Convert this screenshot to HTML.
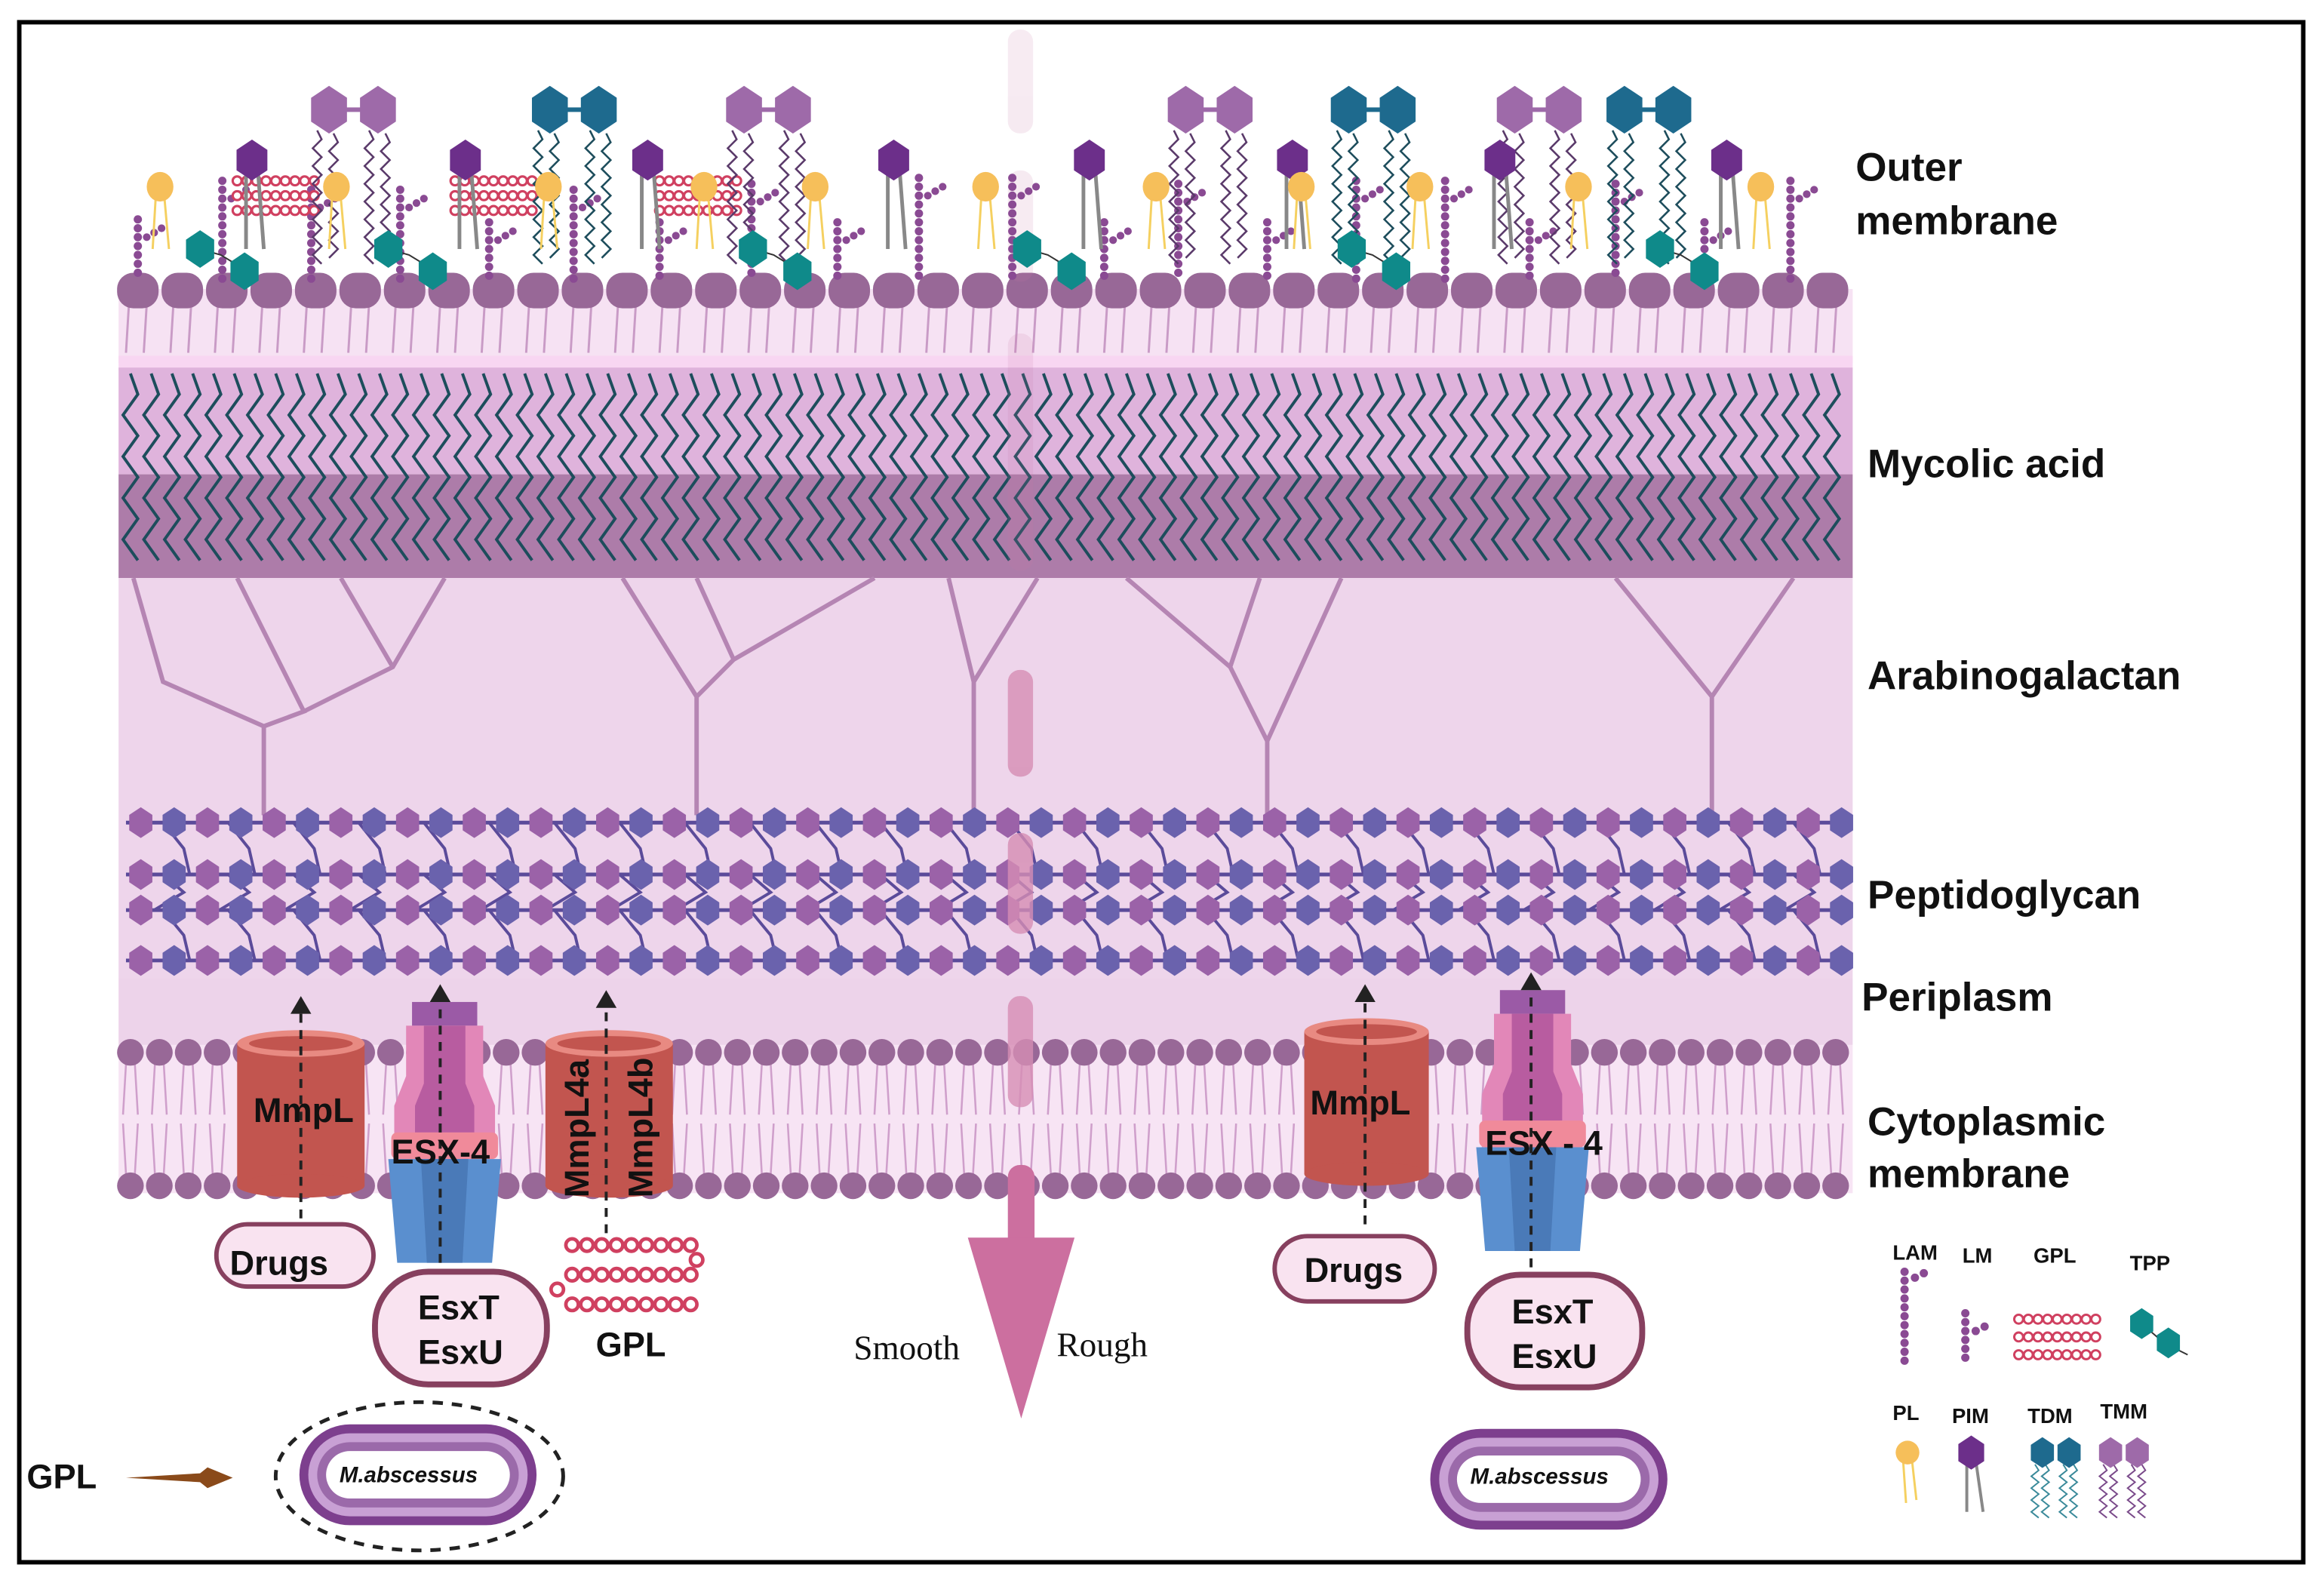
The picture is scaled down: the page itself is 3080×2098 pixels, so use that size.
<!DOCTYPE html>
<html><head><meta charset="utf-8"><style>
html,body{margin:0;padding:0;background:#fff;width:3080px;height:2098px;overflow:hidden}
svg{display:block}
.lbl{font-family:"Liberation Sans",sans-serif;font-weight:bold;fill:#111}
</style></head><body>
<svg id="s" width="3080" height="2098" viewBox="0 0 1568 1068" preserveAspectRatio="none" xmlns="http://www.w3.org/2000/svg">
<rect x="0" y="0" width="1568" height="1068" fill="#fff"/>
<g id="bg">
<rect x="80" y="195" width="1170" height="50" fill="#f6e2f3"/>
<rect x="80" y="240" width="1170" height="10" fill="#f8d6f2"/>
<rect x="80" y="248" width="1170" height="72" fill="#dfb3dc"/>
<rect x="80" y="320" width="1170" height="70" fill="#ad7ca9"/>
<rect x="80" y="390" width="1170" height="270" fill="#eed5eb"/>
<rect x="80" y="660" width="1170" height="45" fill="#edd3ea"/>
<rect x="80" y="705" width="1170" height="100" fill="#f7e4f4"/>
</g>
<g id="gen"></g>
<g id="fg"></g>
<rect x="13" y="15" width="1541" height="1039" fill="none" stroke="#000" stroke-width="3"/>
<g class="lbl" font-size="27">
<text x="1252" y="122">Outer</text>
<text x="1252" y="158">membrane</text>
<text x="1260" y="322">Mycolic acid</text>
<text x="1260" y="465">Arabinogalactan</text>
<text x="1260" y="613">Peptidoglycan</text>
<text x="1256" y="682">Periplasm</text>
<text x="1260" y="766">Cytoplasmic</text>
<text x="1260" y="801">membrane</text>
</g>
<g class="lbl" font-size="23">
<text x="171" y="757">MmpL</text>
<text x="884" y="752">MmpL</text>
<text x="264" y="785">ESX-4</text>
<text x="1002" y="779">ESX - 4</text>
<text x="155" y="860">Drugs</text>
<text x="880" y="865">Drugs</text>
<text x="282" y="890">EsxT</text>
<text x="282" y="920">EsxU</text>
<text x="1020" y="893">EsxT</text>
<text x="1020" y="923">EsxU</text>
<text x="402" y="915">GPL</text>
<text x="18" y="1004">GPL</text>
<text transform="translate(397,808) rotate(-90)">MmpL4a</text>
<text transform="translate(440,808) rotate(-90)">MmpL4b</text>
</g>
<g font-family="Liberation Serif,serif" font-size="23" fill="#111">
<text x="576" y="917">Smooth</text>
<text x="713" y="915">Rough</text>
</g>
<g class="lbl" font-size="15" font-style="italic">
<text x="229" y="1000">M.abscessus</text>
<text x="992" y="1001">M.abscessus</text>
</g>
<g class="lbl" font-size="14">
<text x="1277" y="850">LAM</text><text x="1324" y="852">LM</text><text x="1372" y="852">GPL</text><text x="1437" y="857">TPP</text>
<text x="1277" y="958">PL</text><text x="1317" y="960">PIM</text><text x="1368" y="960">TDM</text><text x="1417" y="957">TMM</text>
</g>
</svg>
<script>
const gen=document.getElementById("gen"),fg=document.getElementById("fg");
let out="";
function hex(cx,cy,r,fill){let p=[];for(let i=0;i<6;i++){let a=Math.PI/3*i+Math.PI/6;p.push((cx+r*Math.cos(a)).toFixed(1)+","+(cy+r*Math.sin(a)*1.15).toFixed(1));}return `<polygon points="${p.join(" ")}" fill="${fill}"/>`;}
function zig(x,y1,y2,amp,step,col,w){let d=`M${x},${y1}`,s=1;for(let y=y1+step;y<=y2;y+=step){d+=` L${x+amp*s},${y}`;s=-s;}return `<path d="${d}" fill="none" stroke="${col}" stroke-width="${w}"/>`;}
for(let x=93;x<1250;x+=30){out+=`<path d="M${x-6},205 L${x-8},238 M${x+6},205 L${x+4},238" stroke="#c99bc6" stroke-width="1.5" fill="none"/>`;}
for(let x=93;x<1250;x+=30){out+=`<rect x="${x-14}" y="184" width="28" height="24" rx="11" fill="#986897"/>`;}
for(let x=88;x<1246;x+=14){out+=zig(x,252,388,5,14,"#1d4d5c",2);}
out+=`<g stroke="#b585b3" stroke-width="3" fill="none">`;
out+=`<path d="M178,550 V490 L110,460 L90,390 M178,490 L205,480 L160,390 M205,480 L265,450 L300,390 M265,450 L230,390"/>`;
out+=`<path d="M470,550 V470 L420,390 M470,470 L495,445 L590,390 M495,445 L470,390"/>`;
out+=`<path d="M657,550 V460 L640,390 M657,460 L700,390"/>`;
out+=`<path d="M855,550 V500 L830,450 L760,390 M855,500 L905,390 M830,450 L850,390"/>`;
out+=`<path d="M1155,550 V470 L1090,390 M1155,470 L1210,390"/>`;
out+=`</g>`;
const rows=[555,590,614,648];
for(let r=0;r<3;r++){for(let x=110;x<1240;x+=44){let y1=rows[r],y2=rows[r+1];out+=`<path d="M${x},${y1} L${x+14},${y1+(y2-y1)/2} L${x+6+(r%2?-12:12)},${y2}" stroke="#5b4b9a" stroke-width="2" fill="none"/>`;}}
rows.forEach((y,ri)=>{out+=`<line x1="85" y1="${y}" x2="1248" y2="${y}" stroke="#5b4b9a" stroke-width="2.5"/>`;let i=0;for(let x=95;x<1248;x+=22.5){out+=hex(x,y,9,(i++%2)?"#6a62ad":"#9b62a8");}});
for(let x=88;x<1252;x+=19.5){out+=`<path d="M${x-3},718 L${x-5},752 M${x+3},718 L${x+5},752 M${x-3},792 L${x-5},758 M${x+3},792 L${x+5},758" stroke="#cf9fcb" stroke-width="1.3" fill="none"/>`;out+=`<circle cx="${x}" cy="710" r="9" fill="#986897"/><circle cx="${x}" cy="800" r="9" fill="#986897"/>`;}
out+=`<g fill="#c97aa6" opacity="0.15"><rect x="680" y="20" width="17" height="70" rx="8"/><rect x="680" y="115" width="17" height="75" rx="8"/><rect x="680" y="225" width="17" height="160" rx="8"/></g>`;
out+=`<g fill="#d68db4" opacity="0.8"><rect x="680" y="452" width="17" height="72" rx="8"/><rect x="680" y="562" width="17" height="68" rx="8"/><rect x="680" y="672" width="17" height="75" rx="8"/></g>`;
out+=`<rect x="680" y="786" width="18" height="60" rx="8" fill="#cc6f9f"/><polygon points="653,835 725,835 689,957" fill="#cc6f9f"/>`;
gen.innerHTML=out;
let f="";
function beads(x,y1,y2,col){let s="";for(let y=y1;y<=y2;y+=6)s+=`<circle cx="${x}" cy="${y}" r="2.8" fill="${col}"/>`;return s;}
function lam(x,top,branch){let s=beads(x,top,188,"#8a4a93");s+=`<circle cx="${x+6}" cy="${top+branch}" r="2.6" fill="#8a4a93"/><circle cx="${x+11}" cy="${top+branch-3}" r="2.6" fill="#8a4a93"/><circle cx="${x+16}" cy="${top+branch-6}" r="2.6" fill="#8a4a93"/>`;return s;}
[[93,148],[150,122],[210,128],[270,128],[330,150],[387,128],[445,150],[507,124],[565,150],[620,120],[683,120],[745,150],[795,124],[855,150],[915,122],[975,122],[1032,150],[1090,124],[1150,150],[1208,122]].forEach(([x,t])=>f+=lam(x,t,12));
function gpl(x,y){let s="";for(let r=0;r<3;r++)for(let i=0;i<9;i++)s+=`<circle cx="${x+i*6.5}" cy="${y+r*10}" r="3" fill="#fff" stroke="#d04060" stroke-width="1.6"/>`;return s;}
[[160,122],[307,122],[445,122]].forEach(([x,y])=>f+=gpl(x,y));
function pair(x,col,tcol){let s=zig(x-8,88,178,3,6,tcol,1.3)+zig(x+3,90,175,3,6,tcol,1.3)+zig(x+27,88,178,3,6,tcol,1.3)+zig(x+38,90,175,3,6,tcol,1.3);s+=`<line x1="${x}" y1="74" x2="${x+33}" y2="74" stroke="${col}" stroke-width="3"/>`+hex(x,74,14,col)+hex(x+33,74,14,col);return s;}
[[222,"#9e6aa9","#5a3a6a"],[502,"#9e6aa9","#5a3a6a"],[800,"#9e6aa9","#5a3a6a"],[1022,"#9e6aa9","#5a3a6a"],[371,"#1e6a8e","#1d4d5c"],[910,"#1e6a8e","#1d4d5c"],[1096,"#1e6a8e","#1d4d5c"]].forEach(a=>f+=pair(...a));
[170,314,437,603,735,872,1012,1165].forEach(x=>{f+=`<path d="M${x-4},115 V168 M${x+4},115 L${x+8},168" stroke="#888" stroke-width="2.5" fill="none"/>`+hex(x,108,12,"#6c2f8a");});
[108,227,370,475,550,665,780,878,958,1065,1188].forEach(x=>{f+=`<path d="M${x-3},134 L${x-5},168 M${x+3},134 L${x+6},168" stroke="#f5d060" stroke-width="1.5" fill="none"/><ellipse cx="${x}" cy="126" rx="9" ry="10" fill="#f6bf5a"/>`;});
[[135,168],[262,168],[508,168],[693,168],[912,168],[1120,168]].forEach(([x,y])=>{f+=`<path d="M${x},${y} L${x+14},${y+4} L${x+32},${y+15}" stroke="#333" fill="none"/>`+hex(x,y,11,"#0f8a8a")+hex(x+30,y+15,11,"#0f8a8a");});
function cyl(x,y,w,h){return `<rect x="${x}" y="${y+8}" width="${w}" height="${h-16}" fill="#c2554f"/><ellipse cx="${x+w/2}" cy="${y+h-8}" rx="${w/2}" ry="8" fill="#c2554f"/><ellipse cx="${x+w/2}" cy="${y+8}" rx="${w/2}" ry="9" fill="#e88a82"/><ellipse cx="${x+w/2}" cy="${y+8}" rx="${w/2-8}" ry="5" fill="#c2554f"/>`;}
f+=cyl(160,696,86,112)+cyl(368,696,86,112)+cyl(880,688,84,112);
function esx(x,y){return `<rect x="${x+12}" y="${y}" width="44" height="16" fill="#9b5aa6"/><path d="M${x+8},${y+16} H${x+60} V${y+50} L${x+68},${y+70} V${y+92} H${x} V${y+70} L${x+8},${y+50}Z" fill="#e287b8"/><path d="M${x+20},${y+16} H${x+48} V${y+55} L${x+54},${y+70} V${y+88} H${x+14} V${y+70} L${x+20},${y+55}Z" fill="#b85ca0"/><rect x="${x-2}" y="${y+88}" width="72" height="18" rx="4" fill="#f08a9a"/><path d="M${x-4},${y+106} H${x+72} L${x+66},${y+176} H${x+2}Z" fill="#5a8fcf"/><path d="M${x+18},${y+106} H${x+50} L${x+46},${y+176} H${x+22}Z" fill="#4a7ab8"/>`;}
f+=esx(266,676)+esx(1000,668);
function arrow(x,y1,y2){return `<line x1="${x}" y1="${y1}" x2="${x}" y2="${y2+12}" stroke="#222" stroke-width="2" stroke-dasharray="6,5"/><polygon points="${x-7},${y2+12} ${x+7},${y2+12} ${x},${y2}" fill="#222"/>`;}
f+=arrow(203,822,672)+arrow(297,852,664)+arrow(409,832,668)+arrow(921,826,664)+arrow(1033,855,656);
function pill(x,y,w,h,r,sw){return `<rect x="${x}" y="${y}" width="${w}" height="${h}" rx="${r}" fill="#f9e3f0" stroke="#87405f" stroke-width="${sw}"/>`;}
f+=pill(146,826,106,42,21,3)+pill(860,834,108,44,22,3)+pill(253,858,116,76,36,4)+pill(990,860,118,76,36,4);
for(let r=0;r<3;r++)for(let i=0;i<9;i++)f+=`<circle cx="${386+i*10}" cy="${840+r*20}" r="4.2" fill="#fff" stroke="#d04060" stroke-width="2.4"/>`;
f+=`<circle cx="376" cy="870" r="4.2" fill="#fff" stroke="#d04060" stroke-width="2.4"/><circle cx="470" cy="850" r="4.2" fill="#fff" stroke="#d04060" stroke-width="2.4"/>`;
function bact(cx,cy){return `<rect x="${cx-80}" y="${cy-34}" width="160" height="68" rx="34" fill="#7d3f8e"/><rect x="${cx-74}" y="${cy-28}" width="148" height="56" rx="28" fill="#c8a0d4"/><rect x="${cx-68}" y="${cy-22}" width="136" height="44" rx="22" fill="#9b6aaa"/><rect x="${cx-62}" y="${cy-16}" width="124" height="32" rx="16" fill="#fff"/>`;}
f+=`<ellipse cx="283" cy="996" rx="97" ry="50" fill="none" stroke="#222" stroke-width="2.5" stroke-dasharray="7,6"/>`+bact(282,995)+bact(1045,998);
f+=`<path d="M85,997 L135,994 L140,990 L157,997 L140,1004 L135,1000Z" fill="#8a4a1a"/>`;
f+=beads(1285,858,920,"#8a4a93")+`<circle cx="1292" cy="862" r="2.8" fill="#8a4a93"/><circle cx="1298" cy="859" r="2.8" fill="#8a4a93"/>`;
f+=beads(1326,886,918,"#8a4a93")+`<circle cx="1333" cy="898" r="2.8" fill="#8a4a93"/><circle cx="1339" cy="895" r="2.8" fill="#8a4a93"/>`;
for(let r=0;r<3;r++)for(let i=0;i<9;i++)f+=`<circle cx="${1362+i*6.5}" cy="${890+r*12}" r="3" fill="#fff" stroke="#d04060" stroke-width="1.5"/>`;
f+=`<path d="M1445,893 L1460,906 L1476,914" stroke="#333" fill="none"/>`+hex(1445,893,9,"#0f8a8a")+hex(1463,906,9,"#0f8a8a");
f+=`<path d="M1284,985 L1286,1014 M1290,985 L1293,1012" stroke="#f5d060" stroke-width="1.5"/><circle cx="1287" cy="980" r="8" fill="#f6bf5a"/>`;
f+=`<path d="M1327,985 V1020 M1333,985 L1338,1020" stroke="#888" stroke-width="2"/>`+hex(1330,980,10,"#6c2f8a");
for(const [x,c,t] of [[1378,"#1e6a8e","#3a8a9a"],[1424,"#9e6aa9","#7a4a8a"]]){f+=zig(x-5,988,1024,2.5,4,t,1)+zig(x+2,988,1024,2.5,4,t,1)+zig(x+14,988,1024,2.5,4,t,1)+zig(x+21,988,1024,2.5,4,t,1)+hex(x,980,9,c)+hex(x+18,980,9,c);}
fg.innerHTML=f;
</script>
</body></html>
